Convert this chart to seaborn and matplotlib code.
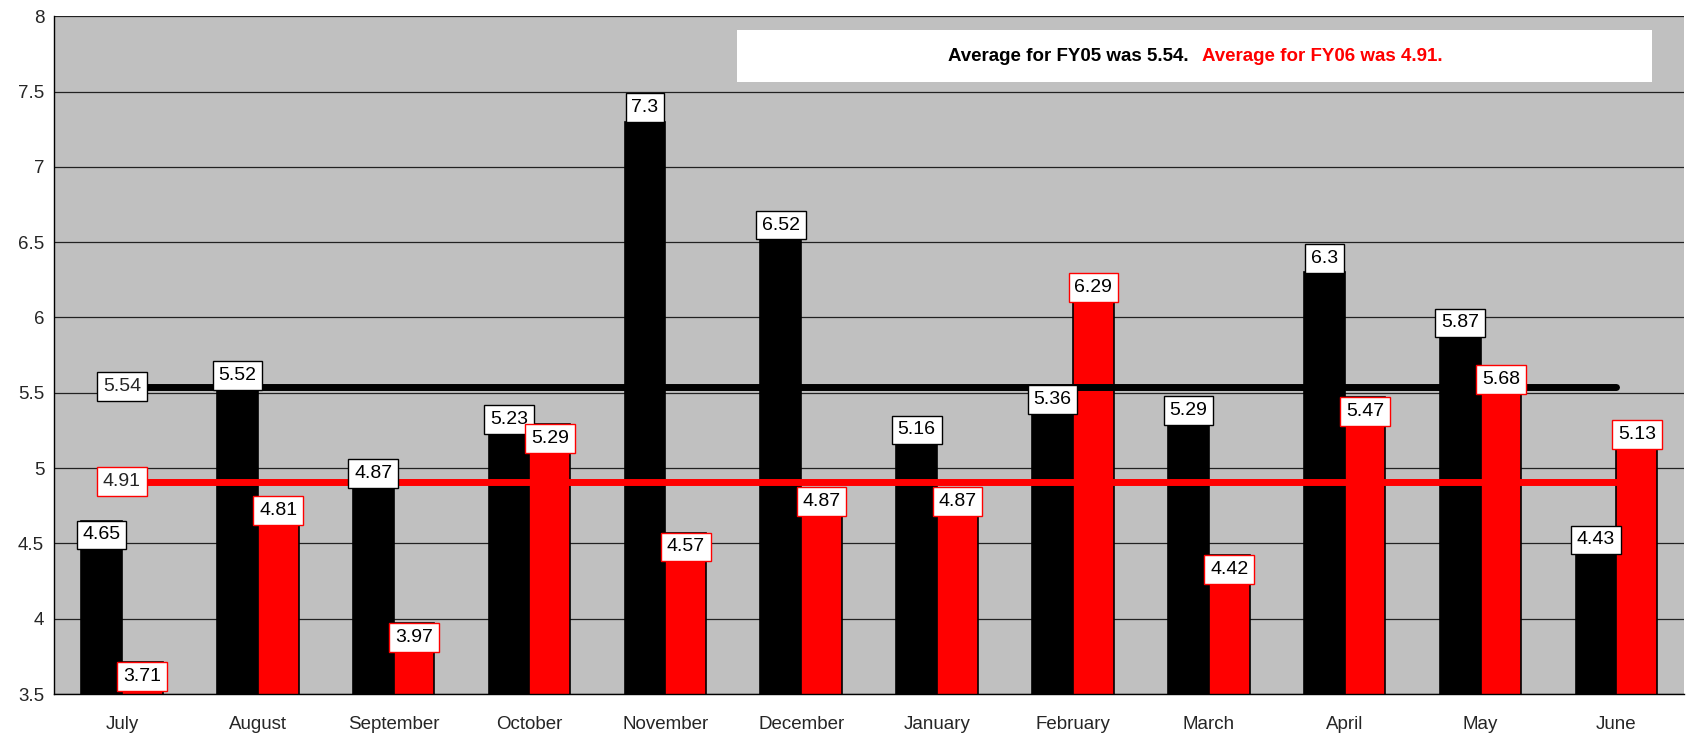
import seaborn as sns
import matplotlib.pyplot as plt
import pandas as pd
from matplotlib.patches import Rectangle

# data
months = ["July", "August", "September", "October", "November", "December",
          "January", "February", "March", "April", "May", "June"]
fy05 = [4.65, 5.52, 4.87, 5.23, 7.3, 6.52, 5.16, 5.36, 5.29, 6.3, 5.87, 4.43]
fy06 = [3.71, 4.81, 3.97, 5.29, 4.57, 4.87, 4.87, 6.29, 4.42, 5.47, 5.68, 5.13]
avg05 = 5.54
avg06 = 4.91

# where each value label sits (True = just inside the bar top)
fy05_inside = [True] + [False] * 11
fy06_inside = [True] * 11 + [False]

df = pd.DataFrame({
    "month": months * 2,
    "value": fy05 + fy06,
    "year": ["FY05"] * 12 + ["FY06"] * 12,
})

sns.set_style("white")
plt.rcParams["font.family"] = ["Liberation Sans", "DejaVu Sans"]

fig, ax = plt.subplots(figsize=(16.86, 7.36), dpi=100)
fig.subplots_adjust(left=0.032, right=0.999, bottom=0.057, top=0.978)
ax.set_facecolor("#c0c0c0")

sns.barplot(data=df, x="month", y="value", hue="year", order=months,
            palette={"FY05": "black", "FY06": "red"}, saturation=1, width=0.6,
            edgecolor="black", linewidth=1.2, legend=False, ax=ax)

ax.set_ylim(3.5, 8)
ax.set_xlim(-0.5, 11.5)
ax.set_yticks([3.5, 4, 4.5, 5, 5.5, 6, 6.5, 7, 7.5, 8])
ax.set_yticklabels(["3.5", "4", "4.5", "5", "5.5", "6", "6.5", "7", "7.5", "8"])
ax.yaxis.grid(True, color="#222222", linewidth=0.9)
ax.set_axisbelow(True)
ax.set_xlabel("")
ax.set_ylabel("")

for s in ["top", "right"]:
    ax.spines[s].set_visible(False)
for s in ["left", "bottom"]:
    ax.spines[s].set_color("black")
    ax.spines[s].set_linewidth(1.0)

ax.tick_params(axis="y", length=4, width=1, color="black", labelsize=13.5, pad=3)
ax.tick_params(axis="x", which="major", length=0, labelsize=13.5, pad=16)
ax.set_xticks([i - 0.5 for i in range(13)], minor=True)
ax.tick_params(axis="x", which="minor", length=5, width=1, color="black")

# value labels
for i in range(12):
    for vals, inside, off, ec in [(fy05, fy05_inside, -0.15, "black"),
                                  (fy06, fy06_inside, 0.15, "red")]:
        v = vals[i]
        dy = -4 if inside[i] else 4
        ax.annotate(f"{v:g}", (i + off, v), xytext=(0, dy), textcoords="offset points",
                    ha="center", va="top" if inside[i] else "bottom",
                    fontsize=14, color="black", zorder=6,
                    bbox=dict(boxstyle="square,pad=0.3", fc="white", ec=ec, lw=1))

# average lines
ax.plot([0, 11], [avg05, avg05], color="black", lw=5, solid_capstyle="round", zorder=4)
ax.plot([0, 11], [avg06, avg06], color="red", lw=5, solid_capstyle="round", zorder=4)
for v, ec in [(avg05, "black"), (avg06, "red")]:
    ax.text(0, v, f"{v:g}", ha="center", va="center", fontsize=14, zorder=6,
            bbox=dict(boxstyle="square,pad=0.3", fc="white", ec=ec, lw=1))

# text box at the top
ax.add_patch(Rectangle((0.419, 0.903), 0.561, 0.076, transform=ax.transAxes,
                       facecolor="white", edgecolor="none", zorder=5))
ax.text(0.696, 0.941, "Average for FY05 was 5.54.", transform=ax.transAxes,
        ha="right", va="center", fontsize=13.5, fontweight="bold", color="black", zorder=6)
ax.text(0.704, 0.941, "Average for FY06 was 4.91.", transform=ax.transAxes,
        ha="left", va="center", fontsize=13.5, fontweight="bold", color="red", zorder=6)

fig.savefig("out.png", dpi=100)
